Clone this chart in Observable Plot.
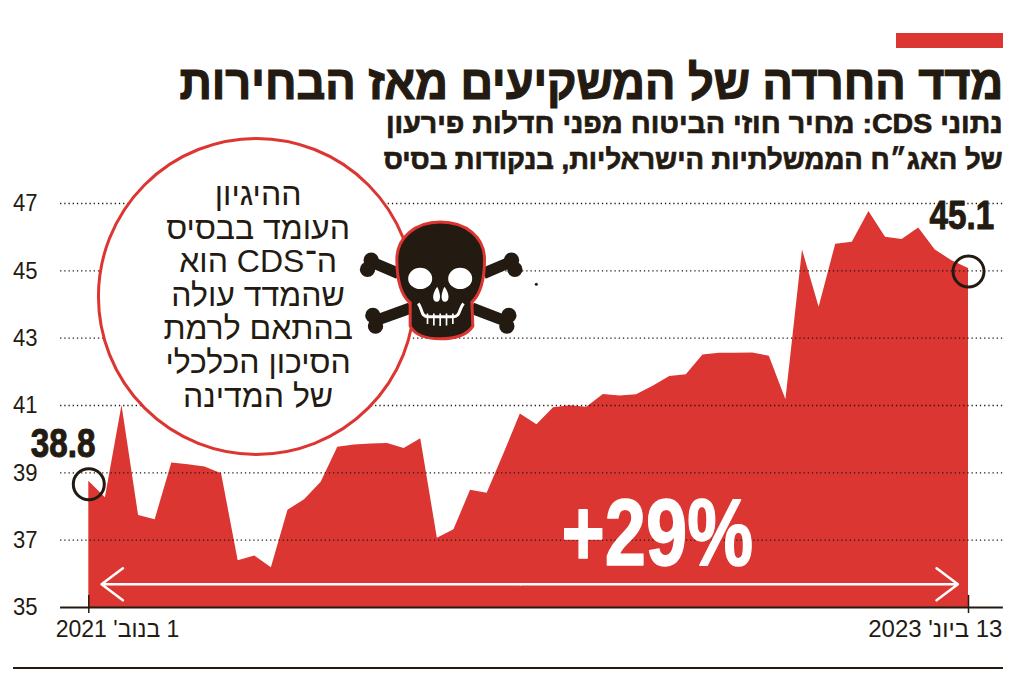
<!DOCTYPE html>
<html lang="he">
<head>
<meta charset="utf-8">
<script src="https://cdn.jsdelivr.net/npm/d3@7"></script>
<script src="https://cdn.jsdelivr.net/npm/@observablehq/plot@0.6"></script>
<style>
  html, body { margin: 0; padding: 0; background: #fff; }
  body { width: 1024px; height: 678px; overflow: hidden; position: relative; color: #231a12; }
  #head { height: 180px; position: relative; direction: rtl; }
  #bar { position: absolute; top: 33px; right: 21px; width: 107px; height: 15px; background: #dc3632; }
  #title { position: absolute; top: 51px; right: 21px; white-space: nowrap; font: 700 48px/64px "Liberation Sans", sans-serif; -webkit-text-stroke: 1.2px #231a12; transform: scaleX(.938); transform-origin: right center; }
  .sub { position: absolute; right: 21px; white-space: nowrap; font: 700 28px/36px "Liberation Sans", sans-serif; -webkit-text-stroke: .7px #231a12; transform-origin: right center; }
  #sub1 { top: 106px; transform: scaleX(1.02); } #sub2 { top: 142px; transform: scaleX(.98); }
  #chart svg { display: block; }
  #foot { position: absolute; left: 13px; top: 667px; width: 990px; height: 2px; background: #231a12; }
</style>
</head>
<body>
<div id="head">
  <div id="bar"></div>
  <div id="title">מדד החרדה של המשקיעים מאז הבחירות</div>
  <div class="sub" id="sub1">נתוני CDS: מחיר חוזי הביטוח מפני חדלות פירעון</div>
  <div class="sub" id="sub2">של האג״ח הממשלתיות הישראליות, בנקודות בסיס</div>
</div>
<div id="chart"></div>
<div id="foot"></div>
<script>
const values = [38.75,38.26,41.0,37.73,37.61,39.29,39.24,39.17,38.97,36.39,36.53,36.18,37.89,38.2,38.72,39.76,39.83,39.86,39.87,39.72,40.01,37.06,37.31,38.48,38.39,39.55,40.75,40.43,40.93,40.99,40.95,41.33,41.28,41.32,41.57,41.86,41.91,42.5,42.55,42.55,42.56,42.46,41.17,45.62,43.92,45.79,45.85,46.76,46.0,45.93,46.27,45.62,45.3,45.07];
const yTicks = [35,37,39,41,43,45,47];
const gridTicks = [37,39,41,43,45,47];
const startLabel = "1 בנוב' 2021";
const endLabel = "13 ביונ' 2023";
const startValue = "38.8";
const endValue = "45.1";
const changeLabel = "+29%";
const calloutLines = ["ההיגיון","העומד בבסיס","ה־CDS הוא","שהמדד עולה","בהתאם לרמת","הסיכון הכלכלי","של המדינה"];

const red = "#dc3632", ink = "#231a12";
const sans = '"Liberation Sans", sans-serif';
const rtl = s => "\u202B" + s + "\u202C";
const last = values.length - 1;
const gridFrom = -1.7, gridTo = 55.1;

// The reference uses condensed type: squeeze each text horizontally about its own anchor.
const narrowText = (t, k) => t.setAttribute("transform", (t.getAttribute("transform") || "") + ` scale(${k},1)`);
const squeeze = k => (index, scales, vals, dims, ctx, next) => {
  const g = next(index, scales, vals, dims, ctx);
  g.querySelectorAll("text").forEach(t => narrowText(t, k));
  return g;
};

function skull(index, scales) {
  const g = d3.create("svg:g")
    .attr("transform", `translate(${scales.x(21.22)},${scales.y(44.7)}) scale(${1/3}) translate(-301,-213)`);
  g.html(`
    <g fill="${ink}" stroke="none">
      <path d="M175 192L95 158M430 192L510 158M210 296L105 334M395 296L500 336" stroke="${ink}" stroke-width="34" fill="none"/>
      <circle cx="93" cy="152" r="23"/><circle cx="82" cy="180" r="23"/>
      <circle cx="514" cy="152" r="23"/><circle cx="524" cy="180" r="23"/>
      <circle cx="98" cy="318" r="23"/><circle cx="106" cy="350" r="23"/>
      <circle cx="506" cy="318" r="23"/><circle cx="500" cy="350" r="23"/>
    </g>
    <path d="M300 38C380 38 433 85 433 150C433 200 425 250 395 278L398 350C380 378 345 388 300 388C255 388 225 378 210 350L210 280C180 255 170 200 170 150C170 85 225 38 300 38Z" fill="${ink}" stroke="${red}" stroke-width="9"/>
    <ellipse cx="240" cy="207" rx="36" ry="32" fill="#fff"/>
    <ellipse cx="360" cy="207" rx="36" ry="32" fill="#fff"/>
    <path d="M291 232C301 250 304 275 291 277C276 278 274 255 291 232ZM313 232C303 250 300 275 313 277C328 278 330 255 313 232Z" fill="#fff"/>
    <path d="M234 282C248 298 240 322 265 322L337 322C362 322 356 298 370 282" fill="none" stroke="#fff" stroke-width="9"/>
    <path d="M262 312V344M281 312V348M300 312V350M319 312V348M338 312V344" fill="none" stroke="#fff" stroke-width="5"/>
  `);
  return g.node();
}

const plot = Plot.plot({
  width: 1024,
  height: 486,
  marginLeft: 37, marginRight: 0, marginTop: 0, marginBottom: 0,
  style: { fontFamily: sans, fontSize: "24px", color: ink, background: "transparent", overflow: "visible" },
  x: { axis: null, domain: [0, last], range: [88.3, 968] },
  y: { domain: [35, 47], range: [427, 23] },
  marks: [
    Plot.areaY(values, { x: (d, i) => i, y: d => d, y1: 35, fill: red }),
    Plot.ruleY(gridTicks, { x1: () => gridFrom, x2: () => gridTo, stroke: ink, strokeWidth: 1.4, strokeDasharray: "1.3,2.9" }),
    Plot.axisY({ ticks: yTicks, tickSize: 0, tickPadding: 0, fontSize: 24, fill: ink }),
    Plot.ruleY([35], { x1: () => gridFrom, x2: () => gridTo, stroke: ink, strokeWidth: 2 }),
    Plot.ruleX([0, last], { y1: () => 35.36, y2: () => 34.82, stroke: ink, strokeWidth: 1.5 }),
    Plot.arrow([{ a: 26, b: 0.77 }, { a: 26, b: 52.36 }], {
      x1: "a", x2: "b", y1: () => 35.69, y2: () => 35.69,
      bend: 0, stroke: "#fff", strokeWidth: 2.5, headAngle: 74, headLength: 16
    }),
    Plot.text([changeLabel], { x: () => 34.25, y: () => 37.17, text: d => d, fill: "#fff", stroke: "#fff", strokeWidth: 1.5, fontWeight: 700, fontSize: 95, render: squeeze(.78) }),
    Plot.dot([1], { x: () => 10.1, y: () => 44.24, r: 158, fill: "#fff", stroke: red, strokeWidth: 3 }),
    Plot.text([calloutLines.map(rtl).join("\n")], { x: () => 10.2, y: () => 44.28, text: d => d, lineHeight: 33.6 / 32, fontSize: 32, fill: ink }),
    skull,
    Plot.dot([1], { x: () => 26.96, y: () => 44.6, r: 1.5, fill: ink }),
    Plot.dot([values[0], values[last]], { x: (d, i) => i ? last : 0, y: d => d, dy: 3, r: 15.5, stroke: ink, strokeWidth: 3 }),
    Plot.text([startValue], { x: () => -1.55, y: () => 39.87, text: d => d, fontWeight: 700, fontSize: 41, fill: ink, stroke: ink, strokeWidth: 1, render: squeeze(.81) }),
    Plot.text([endValue], { x: () => 52.6, y: () => 46.64, text: d => d, fontWeight: 700, fontSize: 41, fill: ink, stroke: ink, strokeWidth: 1, render: squeeze(.81) }),
    Plot.text([startLabel], { x: () => 1.73, y: () => 34.36, text: d => rtl(d), fontSize: 24, fill: ink, render: squeeze(.96) }),
    Plot.text([endLabel], { x: () => 51.0, y: () => 34.36, text: d => rtl(d), fontSize: 24, fill: ink, render: squeeze(1) })
  ]
});
plot.querySelectorAll('[aria-label="y-axis tick label"] text').forEach(t => narrowText(t, .92));
document.getElementById("chart").append(plot);
</script>
</body>
</html>
